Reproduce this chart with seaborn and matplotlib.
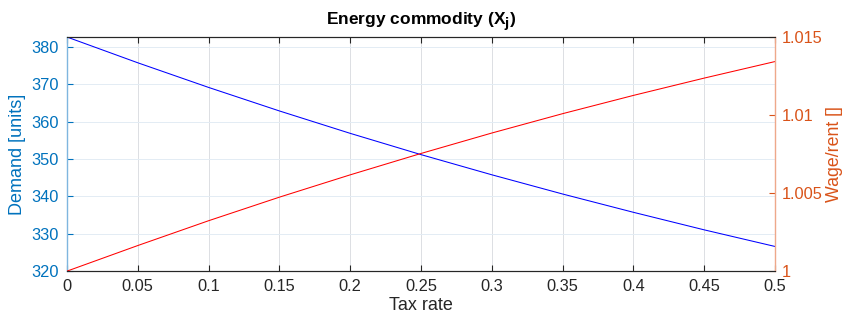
import matplotlib
matplotlib.use("Agg")
import matplotlib.pyplot as plt
import seaborn as sns
import numpy as np
import pandas as pd

tax_rate = [0, 0.05, 0.1, 0.15, 0.2, 0.25, 0.3, 0.35, 0.4, 0.45, 0.5]
demand = [382.7, 375.8, 369.2, 362.9, 356.9, 351.2, 345.8, 340.65, 335.75, 331.05, 326.6]
wage_rent = [1.0, 1.00164, 1.00323, 1.00474, 1.00617, 1.00754, 1.00885, 1.01009, 1.01126, 1.01237, 1.01343]

x_ticks = [0, 0.05, 0.1, 0.15, 0.2, 0.25, 0.3, 0.35, 0.4, 0.45, 0.5]
left_ticks = [320, 330, 340, 350, 360, 370, 380]
right_ticks = [1, 1.005, 1.01, 1.015]

df = pd.DataFrame({"tax": tax_rate, "demand": demand, "wage": wage_rent})

c_left = "#0072BD"
c_right = "#D95319"
c_dark = "#262626"

sns.set_style("white")
plt.rcParams["font.family"] = ["Liberation Sans", "DejaVu Sans"]

fig = plt.figure(figsize=(8.47, 3.22), dpi=100)
ax = fig.add_axes([0.0791, 0.158, 0.836, 0.727])

sns.lineplot(data=df, x="tax", y="demand", ax=ax, color="blue", linewidth=0.75)
ax2 = ax.twinx()
sns.lineplot(data=df, x="tax", y="wage", ax=ax2, color="red", linewidth=0.75)

ax.set_xlim(0, 0.5)
ax.set_ylim(320, max(demand))
ax2.set_ylim(1, 1.015)

ax.set_xticks(x_ticks)
ax.set_xticklabels(["%g" % t for t in x_ticks])
ax.set_yticks(left_ticks)
ax.set_yticklabels(["%g" % t for t in left_ticks])
ax2.set_yticks(right_ticks)
ax2.set_yticklabels(["%g" % t for t in right_ticks])

# grid: vertical gray, horizontal faint blue
ax.xaxis.grid(True, color="#dcdfe3", linewidth=0.7)
ax.yaxis.grid(True, color="#e3ecf4", linewidth=0.7)
ax.set_axisbelow(True)

ax.tick_params(axis="x", direction="in", length=4, colors=c_dark, labelsize=11.8,
               top=True, bottom=True, pad=6, width=0.8)
ax.tick_params(axis="y", direction="in", length=4, colors=c_left, labelsize=11.8, pad=6)
ax2.tick_params(axis="y", direction="in", length=4, colors=c_right, labelsize=11.8, pad=5)

for a in (ax, ax2):
    a.spines["top"].set_color(c_dark)
    a.spines["bottom"].set_color(c_dark)
    a.spines["top"].set_linewidth(0.8)
    a.spines["bottom"].set_linewidth(0.8)
ax.spines["right"].set_visible(False)
ax2.spines["left"].set_visible(False)
ax.spines["left"].set_color("#7fb6df")
ax.spines["left"].set_linewidth(1.0)
ax2.spines["right"].set_color("#eea88a")
ax2.spines["right"].set_linewidth(1.0)

ax.set_xlabel("Tax rate", fontsize=13, color=c_dark, labelpad=2)
ax.set_ylabel("Demand [units]", fontsize=13, color=c_left, labelpad=4)
ax2.set_ylabel("Wage/rent []", fontsize=12.8, color=c_right, labelpad=2)
ax.set_title(r"Energy commodity (X$_\mathbf{j}$)", fontsize=12.5, fontweight="bold",
             color="black", pad=9)

fig.savefig("out.png", dpi=100)
